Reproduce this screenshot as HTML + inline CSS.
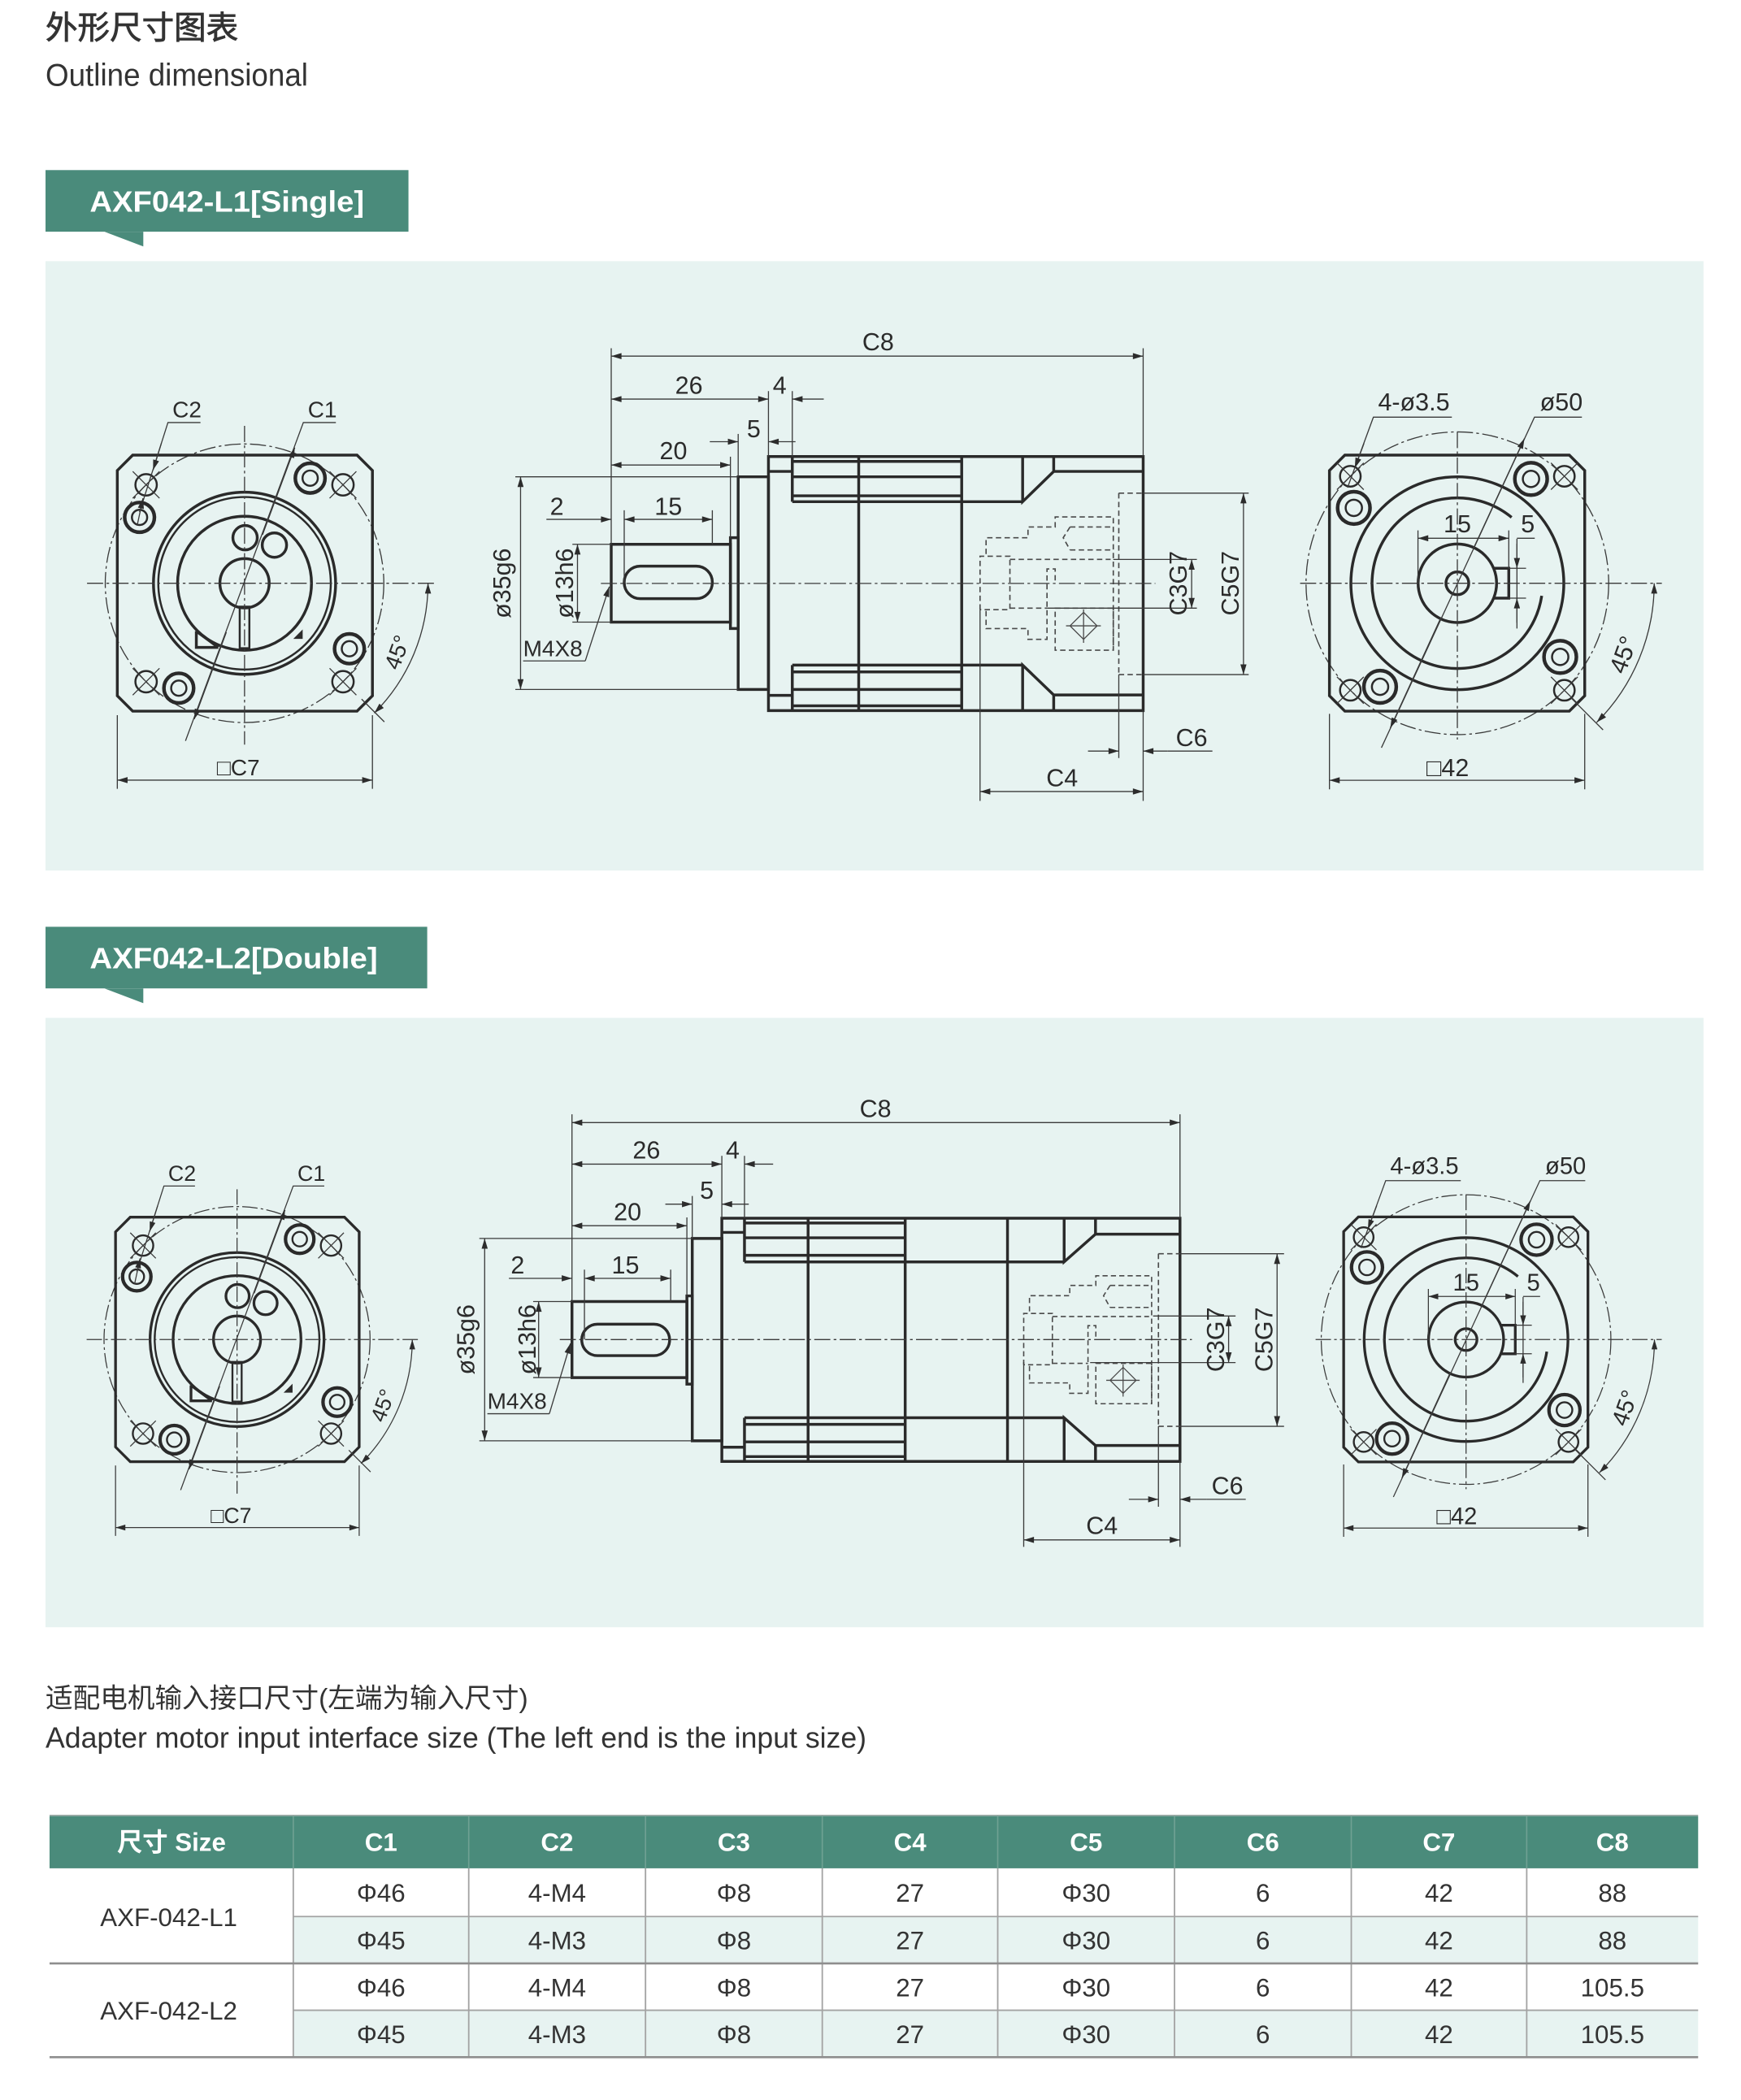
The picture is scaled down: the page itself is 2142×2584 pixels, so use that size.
<!DOCTYPE html>
<html><head><meta charset="utf-8"><style>
html,body{margin:0;padding:0;background:#fff;}
svg{display:block;}
.k{stroke:#2a2a2a;stroke-width:2.1;fill:none;stroke-linejoin:miter}
.k2{stroke:#2a2a2a;stroke-width:2.7;fill:none}
.k1{stroke:#2a2a2a;stroke-width:1.5;fill:none}
.t{stroke:#3a3a3a;stroke-width:0.8;fill:none}
.c{stroke:#3a3a3a;stroke-width:0.8;fill:none;stroke-dasharray:12 2.5 2 2.5}
.h{stroke:#4a4a4a;stroke-width:1;fill:none;stroke-dasharray:4 2.5}
.d{stroke:#3a3a3a;stroke-width:0.8;fill:none;marker-start:url(#ar);marker-end:url(#ar)}
.e{stroke:#3a3a3a;stroke-width:0.8;fill:none;marker-end:url(#ar)}
.f{font-family:"Liberation Sans","DejaVu Sans",sans-serif;fill:#2b2b2b;font-size:18.5px}
.fs{font-family:"Liberation Sans","DejaVu Sans",sans-serif;fill:#2b2b2b;font-size:17px}
.m{text-anchor:middle}
.tb{font-family:"Liberation Sans Narrow","Liberation Sans","Noto Sans CJK SC",sans-serif;font-size:19px;fill:#333;text-anchor:middle}
.th{font-family:"Liberation Sans Narrow","Liberation Sans","Noto Sans CJK SC",sans-serif;font-size:19px;fill:#fff;font-weight:bold;text-anchor:middle}
</style></head><body>
<svg xmlns="http://www.w3.org/2000/svg" width="2142" height="2584" viewBox="0 0 1300 1568" preserveAspectRatio="none">
<defs>
<marker id="ar" viewBox="0 0 10 6" refX="10" refY="3" markerWidth="8" markerHeight="4.6" markerUnits="userSpaceOnUse" orient="auto-start-reverse"><path d="M0,0 L10,3 L0,6z" fill="#2c2c2c"/></marker>
</defs>
<rect x="0" y="0" width="1300" height="1568" fill="#ffffff"/>

<!-- Titles -->
<text x="34" y="29" style="font-family:'Liberation Sans','Noto Sans CJK SC',sans-serif;font-size:24px;fill:#333;stroke:#333;stroke-width:0.5">外形尺寸图表</text>
<text x="34" y="64" textLength="196" lengthAdjust="spacingAndGlyphs" style="font-family:'Liberation Sans',sans-serif;font-size:23.5px;fill:#333">Outline dimensional</text>

<!-- Banner 1 -->
<rect x="34" y="127" width="271" height="46" fill="#4a8b7b"/>
<polygon points="78,173 107,173 107,184" fill="#4a8b7b"/>
<text x="67" y="158" textLength="205" lengthAdjust="spacingAndGlyphs" style="font-family:'Liberation Sans',sans-serif;font-size:22px;font-weight:bold;fill:#fff">AXF042-L1[Single]</text>
<rect x="34" y="195" width="1238" height="455" fill="#e7f3f1"/>

<!-- Banner 2 -->
<rect x="34" y="692" width="285" height="46" fill="#4a8b7b"/>
<polygon points="78,738 107,738 107,749" fill="#4a8b7b"/>
<text x="67" y="723" textLength="215" lengthAdjust="spacingAndGlyphs" style="font-family:'Liberation Sans',sans-serif;font-size:22px;font-weight:bold;fill:#fff">AXF042-L2[Double]</text>
<rect x="34" y="760" width="1238" height="455" fill="#e7f3f1"/>

<!-- ================= PANEL 1 LEFT VIEW ================= -->
<g id="Lg">
<circle class="c" cx="182.6" cy="435.5" r="104"/>
<path class="k" d="M99.1,339.8H266.6L278.1,351.3V519.5L266.6,531H99.1L87.6,519.5V351.3Z"/>
<circle class="k" cx="182.6" cy="435.5" r="68"/>
<circle class="k1" cx="182.6" cy="435.5" r="64.4"/>
<circle class="k" cx="182.6" cy="435.5" r="50"/>
<circle class="k" cx="182.6" cy="435.5" r="18.4"/>
<circle class="k" cx="183" cy="401.5" r="9.1"/>
<circle class="k" cx="204.9" cy="407" r="9.1"/>
<rect class="k1" x="179" y="453" width="7.2" height="31"/>
<path class="k" d="M146.6,471.3V483.4H163 M146.6,471.3L163,483.4"/>
<polygon points="219,477 226,470 226,477" fill="#2c2c2c"/>
<circle class="k1" cx="109.1" cy="362" r="8"/>
<circle class="k1" cx="256.1" cy="362" r="8"/>
<circle class="k1" cx="109.1" cy="509" r="8"/>
<circle class="k1" cx="256.1" cy="509" r="8"/>
<path class="t" d="M99.1,352L119.1,372M99.1,372L119.1,352 M246.1,352L266.1,372M246.1,372L266.1,352 M99.1,499L119.1,519M99.1,519L119.1,499 M246.1,499L266.1,519M246.1,519L266.1,499"/>
<circle class="k2" cx="104.2" cy="386.3" r="11.1"/><circle class="k1" cx="104.2" cy="386.3" r="5.7"/>
<circle class="k2" cx="231.6" cy="357" r="11.1"/><circle class="k1" cx="231.6" cy="357" r="5.7"/>
<circle class="k2" cx="260.9" cy="484.4" r="11.1"/><circle class="k1" cx="260.9" cy="484.4" r="5.7"/>
<circle class="k2" cx="133.5" cy="513.8" r="11.1"/><circle class="k1" cx="133.5" cy="513.8" r="5.7"/>
<path class="c" d="M65,435.5H324.6 M182.6,318V556"/>
<path class="t" d="M138.5,553.2L226.5,315.5H250.8"/>
<path class="e" d="M196,399.3L220.1,334.2"/>
<path class="e" d="M169,472L145,537"/>
<path class="t" d="M149.7,315.5H125.4L104.2,382.3"/>
<path class="e" d="M120.5,331L114.3,351"/>
<path class="e" d="M102.5,392L106.8,372"/>
<path class="d" d="M319.6,435.5A137,137 0 0 1 279.5,532.4"/>
<path class="t" d="M270,522L287,539"/>
<path class="d" d="M87.6,582.5H278.1"/>
<path class="t" d="M87.6,534V589M278.1,534V589"/>
</g>
<g id="Lt">
<text class="fs m" x="139.6" y="311.5">C2</text>
<text class="fs m" x="240.7" y="311.5">C1</text>
<text class="fs m" transform="translate(302,489) rotate(-70)">45°</text>
<text class="fs m" x="178" y="579">□C7</text>
</g>

<!-- ================= PANEL 1 RIGHT VIEW ================= -->
<g id="Rg">
<circle class="c" cx="1088.2" cy="435.5" r="113"/>
<path class="k" d="M1004.2,339.8H1171.8L1183.3,351.3V519.5L1171.8,531H1004.2L992.7,519.5V351.3Z"/>
<circle class="k" cx="1088.2" cy="435.5" r="79.5"/>
<path class="k" d="M1151.2,444.9A63.7,63.7 0 1 1 1128.7,386.3"/>
<circle class="k" cx="1088.2" cy="435.5" r="29.3"/>
<circle class="k" cx="1088.2" cy="435.5" r="8.5"/>
<path class="k" d="M1115.3,424.3H1126.6V446.6H1115.3"/>
<circle class="k1" cx="1008.3" cy="355.6" r="7.7"/>
<circle class="k1" cx="1168.1" cy="355.6" r="7.7"/>
<circle class="k1" cx="1008.3" cy="515.4" r="7.7"/>
<circle class="k1" cx="1168.1" cy="515.4" r="7.7"/>
<path class="t" d="M998.3,345.6L1018.3,365.6M998.3,365.6L1018.3,345.6 M1158.1,345.6L1178.1,365.6M1158.1,365.6L1178.1,345.6 M998.3,505.4L1018.3,525.4M998.3,525.4L1018.3,505.4 M1158.1,505.4L1178.1,525.4M1158.1,525.4L1178.1,505.4"/>
<circle class="k2" cx="1010.9" cy="379.2" r="12.1"/><circle class="k1" cx="1010.9" cy="379.2" r="6.1"/>
<circle class="k2" cx="1143.2" cy="357.6" r="12.1"/><circle class="k1" cx="1143.2" cy="357.6" r="6.1"/>
<circle class="k2" cx="1165" cy="490.5" r="12.1"/><circle class="k1" cx="1165" cy="490.5" r="6.1"/>
<circle class="k2" cx="1030.5" cy="512.8" r="12.1"/><circle class="k1" cx="1030.5" cy="512.8" r="6.1"/>
<path class="c" d="M970.8,435.5H1240.9 M1088.2,322.6V552.2"/>
<path class="d" d="M1058.8,401.9H1126.6"/>
<path class="t" d="M1058.8,396V436M1126.6,396V424.3"/>
<path class="t" d="M1132.7,402.3V469.3 M1126.6,424.3H1139.5M1126.6,446.6H1139.5 M1132.7,401.9H1146"/>
<path class="e" d="M1132.7,406L1132.7,424.3"/>
<path class="e" d="M1132.7,465L1132.7,446.6"/>
<path class="t" d="M1084.1,311.5H1025.5L1006.2,364.1"/>
<path class="e" d="M1018.5,331L1011.6,349.5"/>
<path class="t" d="M1031.5,558.3L1145.8,311.5H1181.2"/>
<path class="e" d="M1100,410L1138.3,327.4"/>
<path class="e" d="M1076,461L1038.1,543.6"/>
<path class="d" d="M1235.2,435.5A147,147 0 0 1 1192.2,539.4"/>
<path class="t" d="M1173,521L1197,545"/>
<path class="d" d="M992.7,582.6H1183.3"/>
<path class="t" d="M992.7,533V589.4M1183.3,533V589.4"/>
</g>
<g id="Rt">
<text class="f" x="1029" y="306.4">4-ø3.5</text>
<text class="f" x="1149.9" y="306.4">ø50</text>
<text class="f m" x="1088.2" y="397.4">15</text>
<text class="f m" x="1140.8" y="397.4">5</text>
<text class="f m" transform="translate(1218,491) rotate(-70)">45°</text>
<text class="f m" x="1081" y="579.5">□42</text>
</g>

<!-- ================= PANEL 1 MIDDLE VIEW ================= -->
<path class="k" d="M456.4,406.4H545.4V464.5H456.4Z"/>
<path class="k" d="M545.4,401.5H551.2V469.3H545.4Z"/>
<path class="k" d="M551.2,356H573.8V514.8H551.2Z"/>
<path class="k" d="M573.8,340.9H853.6V530.6H573.8Z"/>
<path class="k" d="M573.8,352H591.6 M591.6,340.9V374.6 M591.6,344.5H718.1 M591.6,356H718.1 M591.6,370.2H718.1 M591.6,374.6H763.6 M641.2,340.9V530.6 M718.1,340.9V530.6 M763.6,340.9V374.6L786.8,352H853.6 M786.8,340.9V352
M573.8,519.2H591.6 M591.6,496.6V530.6 M591.6,527H718.1 M591.6,514.8H718.1 M591.6,501.7H718.1 M591.6,496.6H763.6 M763.6,530.6V496.6L786.8,518.9H853.6 M786.8,530.6V518.9"/>
<rect class="k" x="466.1" y="422.7" width="65.8" height="24.3" rx="12"/>
<g id="Dg" class="h">
<path d="M736.3,413.7V401.5H767.6V393.5H787.9V386H831.3V485.5"/>
<path d="M731.8,455.2V415.3H754.1V455.2H731.8"/>
<path d="M736.3,456.2V469.3H767.6V477.4H781.8V424.8H787.9V435"/>
<path d="M754.1,417.7H829.3"/>
<path d="M754.1,454.1H781.8"/>
<path d="M799,393.5H831.3M799,410.6H831.3M799,393.5L793.9,401.5L799,410.6"/>
<rect x="787.9" y="454.1" width="43.4" height="31.4"/>
<path d="M799,467.3L809.1,457.2L819.2,467.3L809.1,477.4Z M809.1,455V480 M796,467.3H822" style="stroke-dasharray:none;stroke-width:0.8"/>
</g>
<path class="h" d="M835.4,368.2V503.7 M835.4,368.2H853.6 M835.4,503.7H853.6"/>
<path class="c" d="M448.7,435.6H862.7"/>
<!-- dims panel 1 -->
<path class="d" d="M456.4,265.9H853.6"/>
<path class="t" d="M456.4,260V406.4 M853.6,260V340.9 M853.6,530.6V598"/>
<path class="d" d="M456.4,298H573.8"/>
<path class="t" d="M573.8,292V340.9 M591.6,292V340.9"/>
<path class="e" d="M615.1,298H591.6"/>
<path class="e" d="M530,329.8H551.2"/>
<path class="e" d="M594,329.8H573.8"/>
<path class="t" d="M551.2,324V356"/>
<path class="d" d="M456.4,347.2H545.4"/>
<path class="t" d="M545.4,341V401.5"/>
<path class="e" d="M408,387.8H456.4"/>
<path class="d" d="M466.1,387.8H531.9"/>
<path class="t" d="M466.1,381V435.6 M531.9,381V406.4"/>
<path class="t" d="M384.8,356H551.2 M384.8,514.8H551.2"/>
<path class="d" d="M388.7,356V514.8"/>
<path class="t" d="M427.4,406.4H456.4 M427.4,464.5H456.4"/>
<path class="d" d="M431.2,406.4V464.5"/>
<path class="t" d="M390.6,493.5H437"/>
<path class="e" d="M437,493.5L455,438"/>
<path class="t" d="M831.3,417.7H893.7 M781.8,454.1H893.7"/>
<path class="d" d="M889.8,417.7V454.1"/>
<path class="t" d="M853.6,368.2H932.4 M853.6,503.7H932.4"/>
<path class="d" d="M928.5,368.2V503.7"/>
<path class="e" d="M812.4,560.8H835.4"/>
<path class="e" d="M872,560.8H853.6"/>
<path class="t" d="M872,560.8H905.3 M835.4,503.7V566 M731.8,455.2V598"/>
<path class="d" d="M731.8,591H853.6"/>
<text class="f m" x="655.7" y="261.5">C8</text>
<text class="f m" x="514.4" y="294">26</text>
<text class="f m" x="582.2" y="294">4</text>
<text class="f m" x="562.8" y="326.5">5</text>
<text class="f m" x="502.8" y="343">20</text>
<text class="f m" x="415.8" y="384.5">2</text>
<text class="f m" x="499" y="384.5">15</text>
<text class="f m" transform="translate(381,435.5) rotate(-90)">ø35g6</text>
<text class="f m" transform="translate(428,435.5) rotate(-90)">ø13h6</text>
<text class="fs" x="390.6" y="490">M4X8</text>
<text class="f m" transform="translate(886,435.5) rotate(-90)">C3G7</text>
<text class="f m" transform="translate(925,435.5) rotate(-90)">C5G7</text>
<text class="f m" x="889.8" y="557">C6</text>
<text class="f m" x="793.1" y="587">C4</text>

<!-- ================= PANEL 2 ================= -->
<g transform="translate(177,1000.2) scale(0.955) translate(-182.6,-435.5)">
<use href="#Lg"/>
<text class="fs m" x="139.6" y="311.5">C2</text>
<text class="fs m" x="240.7" y="311.5">C1</text>
<text class="fs m" transform="translate(302,489) rotate(-70)">45°</text>
<text class="fs m" x="178" y="579">□C7</text>
</g>
<g transform="translate(1094.7,1000.2) scale(0.957) translate(-1088.2,-435.5)">
<use href="#Rg"/>
<text class="f" x="1029" y="306.4">4-ø3.5</text>
<text class="f" x="1149.9" y="306.4">ø50</text>
<text class="f m" x="1088.2" y="397.4">15</text>
<text class="f m" x="1140.8" y="397.4">5</text>
<text class="f m" transform="translate(1218,491) rotate(-70)">45°</text>
<text class="f m" x="1081" y="579.5">□42</text>
</g>

<!-- panel 2 middle -->
<path class="k" d="M427.1,971.8H512.9V1028.6H427.1Z"/>
<path class="k" d="M512.9,967.6H516.9V1033.5H512.9Z"/>
<path class="k" d="M516.9,924.7H539V1075.8H516.9Z"/>
<path class="k" d="M539,909.6H881.1V1091.2H539Z"/>
<path class="k" d="M539,920.2H555.9 M555.9,909.6V942.2 M555.9,913.2H675.9 M555.9,924.2H675.9 M555.9,937.3H675.9 M555.9,942.2H794.6 M603.4,909.6V1091.2 M675.9,909.6V1091.2 M752.3,909.6V1091.2 M794.6,909.6V942.2L818,921.5H881.1 M818,909.6V921.5
M539,1080.6H555.9 M555.9,1058.6V1091.2 M555.9,1087.6H675.9 M555.9,1076.6H675.9 M555.9,1063.5H675.9 M555.9,1058.6H794.6 M794.6,1091.2V1058.6L818,1079.3H881.1 M818,1091.2V1079.3"/>
<rect class="k" x="434.4" y="988.7" width="65.6" height="23.5" rx="11.7"/>
<g transform="translate(764.4,1000.2) scale(0.96) translate(-731.8,-435.6)"><use href="#Dg"/></g>
<path class="h" d="M865,936.1V1065 M865,936.1H881.1 M865,1065H881.1"/>
<path class="c" d="M418,1000.2H890"/>
<path class="d" d="M427.1,838.2H881.1"/>
<path class="t" d="M427.1,832V971.8 M881.1,832V909.6 M881.1,1091.2V1155"/>
<path class="d" d="M427.1,869.2H539"/>
<path class="t" d="M539,863V909.6 M555.9,863V909.6"/>
<path class="e" d="M577.3,869.2H555.9"/>
<path class="e" d="M496.8,899.1H516.9"/>
<path class="e" d="M559.1,899.1H539"/>
<path class="t" d="M516.9,893V924.7"/>
<path class="d" d="M427.1,915.2H512.9"/>
<path class="t" d="M512.9,909V967.6"/>
<path class="e" d="M380,954.5H427.1"/>
<path class="d" d="M436.4,954.5H500.8"/>
<path class="t" d="M436.4,948V1000.2 M500.8,948V971.8"/>
<path class="t" d="M357.9,924.7H516.9 M357.9,1075.8H516.9"/>
<path class="d" d="M361.9,924.7V1075.8"/>
<path class="t" d="M398.1,971.8H427.1 M398.1,1028.6H427.1"/>
<path class="d" d="M402.2,971.8V1028.6"/>
<path class="t" d="M363.9,1055.6H410.2"/>
<path class="e" d="M410.2,1055.6L426,1003"/>
<path class="t" d="M861,982.6H922.6 M814,1017.4H922.6"/>
<path class="d" d="M917.4,982.6V1017.4"/>
<path class="t" d="M881.1,936.1H958.8 M881.1,1065H958.8"/>
<path class="d" d="M953.6,936.1V1065"/>
<path class="e" d="M842.9,1119.5H865"/>
<path class="e" d="M901,1119.5H881.1"/>
<path class="t" d="M901,1119.5H930.2 M865,1065V1125 M764.4,1017V1155"/>
<path class="d" d="M764.4,1149.8H881.1"/>
<text class="f m" x="653.7" y="834">C8</text>
<text class="f m" x="482.7" y="865">26</text>
<text class="f m" x="547.1" y="865">4</text>
<text class="f m" x="527.8" y="895">5</text>
<text class="f m" x="468.6" y="911">20</text>
<text class="f m" x="386.5" y="951">2</text>
<text class="f m" x="467" y="951">15</text>
<text class="f m" transform="translate(354,1000.2) rotate(-90)">ø35g6</text>
<text class="f m" transform="translate(400,1000.2) rotate(-90)">ø13h6</text>
<text class="fs" x="363.9" y="1052">M4X8</text>
<text class="f m" transform="translate(914,1000.2) rotate(-90)">C3G7</text>
<text class="f m" transform="translate(950,1000.2) rotate(-90)">C5G7</text>
<text class="f m" x="916.5" y="1115.5">C6</text>
<text class="f m" x="822.8" y="1145.5">C4</text>

<!-- Caption -->
<text x="34" y="1275" style="font-family:'Liberation Sans','Noto Sans CJK SC',sans-serif;font-size:20.4px;fill:#333">适配电机输入接口尺寸(左端为输入尺寸)</text>
<text x="34" y="1305" textLength="613" lengthAdjust="spacingAndGlyphs" style="font-family:'Liberation Sans',sans-serif;font-size:22px;fill:#333">Adapter motor input interface size (The left end is the input size)</text>

<!-- Table -->
<rect x="37" y="1356" width="1231" height="39" fill="#4a8b7b"/>
<line x1="37" y1="1355.5" x2="1268" y2="1355.5" stroke="#9aa8a4" stroke-width="1"/>
<rect x="219" y="1431" width="1049" height="35" fill="#e7f3f1"/>
<rect x="219" y="1501" width="1049" height="35" fill="#e7f3f1"/>
<g stroke="#6fa193" stroke-width="1">
<path d="M219,1356V1395M350,1356V1395M482,1356V1395M614,1356V1395M745,1356V1395M877,1356V1395M1009,1356V1395M1140,1356V1395"/>
</g>
<g stroke="#a3a3a3" stroke-width="1.1" fill="none">
<path d="M219,1395V1536M350,1395V1536M482,1395V1536M614,1395V1536M745,1395V1536M877,1395V1536M1009,1395V1536M1140,1395V1536"/>
<path d="M219,1431H1268 M219,1501H1268"/>
</g>
<g stroke="#8e8e8e" stroke-width="1.6" fill="none">
<path d="M37,1466H1268 M37,1536H1268"/>
</g>
<text class="th" x="128" y="1382">尺寸 Size</text>
<text class="th" x="284.5" y="1382">C1</text>
<text class="th" x="416" y="1382">C2</text>
<text class="th" x="548" y="1382">C3</text>
<text class="th" x="679.5" y="1382">C4</text>
<text class="th" x="811" y="1382">C5</text>
<text class="th" x="943" y="1382">C6</text>
<text class="th" x="1074.5" y="1382">C7</text>
<text class="th" x="1204" y="1382">C8</text>

<text class="tb" x="126" y="1438">AXF-042-L1</text>
<text class="tb" x="126" y="1508">AXF-042-L2</text>

<text class="tb" x="284.5" y="1420">Φ46</text><text class="tb" x="416" y="1420">4-M4</text><text class="tb" x="548" y="1420">Φ8</text><text class="tb" x="679.5" y="1420">27</text><text class="tb" x="811" y="1420">Φ30</text><text class="tb" x="943" y="1420">6</text><text class="tb" x="1074.5" y="1420">42</text><text class="tb" x="1204" y="1420">88</text>
<text class="tb" x="284.5" y="1455.5">Φ45</text><text class="tb" x="416" y="1455.5">4-M3</text><text class="tb" x="548" y="1455.5">Φ8</text><text class="tb" x="679.5" y="1455.5">27</text><text class="tb" x="811" y="1455.5">Φ30</text><text class="tb" x="943" y="1455.5">6</text><text class="tb" x="1074.5" y="1455.5">42</text><text class="tb" x="1204" y="1455.5">88</text>
<text class="tb" x="284.5" y="1490.5">Φ46</text><text class="tb" x="416" y="1490.5">4-M4</text><text class="tb" x="548" y="1490.5">Φ8</text><text class="tb" x="679.5" y="1490.5">27</text><text class="tb" x="811" y="1490.5">Φ30</text><text class="tb" x="943" y="1490.5">6</text><text class="tb" x="1074.5" y="1490.5">42</text><text class="tb" x="1204" y="1490.5">105.5</text>
<text class="tb" x="284.5" y="1525.5">Φ45</text><text class="tb" x="416" y="1525.5">4-M3</text><text class="tb" x="548" y="1525.5">Φ8</text><text class="tb" x="679.5" y="1525.5">27</text><text class="tb" x="811" y="1525.5">Φ30</text><text class="tb" x="943" y="1525.5">6</text><text class="tb" x="1074.5" y="1525.5">42</text><text class="tb" x="1204" y="1525.5">105.5</text>
</svg>
</body></html>
